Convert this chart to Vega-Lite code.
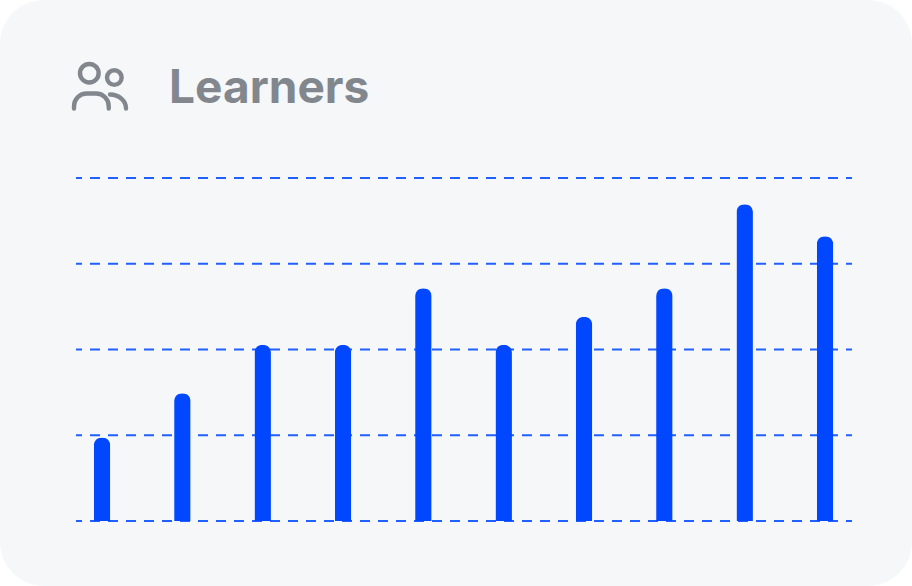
{
"$schema":"https://vega.github.io/schema/vega-lite/v6.json",
"width":912,"height":586,"autosize":{"type":"none"},"padding":0,"background":"#ffffff",
"view":{"fill":"#f6f7f9","stroke":null,"cornerRadius":44},
"datasets":{
"bars":[{"idx":1,"learners":2.92},{"idx":2,"learners":4.47},{"idx":3,"learners":6.17},{"idx":4,"learners":6.17},{"idx":5,"learners":8.14},{"idx":6,"learners":6.17},{"idx":7,"learners":7.15},{"idx":8,"learners":8.14},{"idx":9,"learners":11.08},{"idx":10,"learners":9.96}],
"grid":[{"level":0,"from":0.676,"to":10.336},{"level":3,"from":0.676,"to":10.336},{"level":6,"from":0.676,"to":10.336},{"level":9,"from":0.676,"to":10.336},{"level":12,"from":0.676,"to":10.336}],
"header":[{"label":"Learners","px":1.835,"py":14.62,"ix":0.975,"iy":15.2}]
},
"encoding":{
"x":{"type":"quantitative","scale":{"domain":[0.676,10.336],"range":[76,852],"nice":false,"zero":false,"padding":0},"axis":null},
"y":{"type":"quantitative","scale":{"domain":[0,12],"range":[521,178],"nice":false,"zero":false,"padding":0},"axis":null}
},
"layer":[
{"data":{"name":"grid"},"mark":{"type":"rule","color":"#2060ff","strokeWidth":1.8,"strokeDash":[10,8],"strokeDashOffset":4},
"encoding":{"x":{"field":"from"},"x2":{"field":"to"},"y":{"field":"level"}}},
{"data":{"name":"bars"},"mark":{"type":"bar","color":"#0047ff","width":16.5,"cornerRadiusTopLeft":8,"cornerRadiusTopRight":8},
"encoding":{"x":{"field":"idx"},"y":{"field":"learners"}}},
{"data":{"name":"header"},"mark":{"type":"text","align":"left","baseline":"alphabetic","font":"Inter","fontWeight":700,"fontSize":46,"color":"#82878e"},
"encoding":{"x":{"field":"px"},"y":{"field":"py"},"text":{"field":"label"}}},
{"data":{"name":"header"},"mark":{"type":"point","filled":false,"stroke":"#82878e","strokeWidth":4.4,"strokeCap":"round","size":3136,"opacity":1,
"shape":"M-.05 -.475 A.332 .332 0 1 1 -.714 -.475 A.332 .332 0 1 1 -.05 -.475 Z M.772 -.321 A.261 .261 0 1 1 .25 -.321 A.261 .261 0 1 1 .772 -.321 Z M-.929 .786 V.7 A.45 .45 0 0 1 -.479 .25 H-.139 A.45 .45 0 0 1 .311 .7 V.786 M.357 .286 A.57 .5 0 0 1 .929 .786"},
"encoding":{"x":{"field":"ix"},"y":{"field":"iy"}}}
]
}
